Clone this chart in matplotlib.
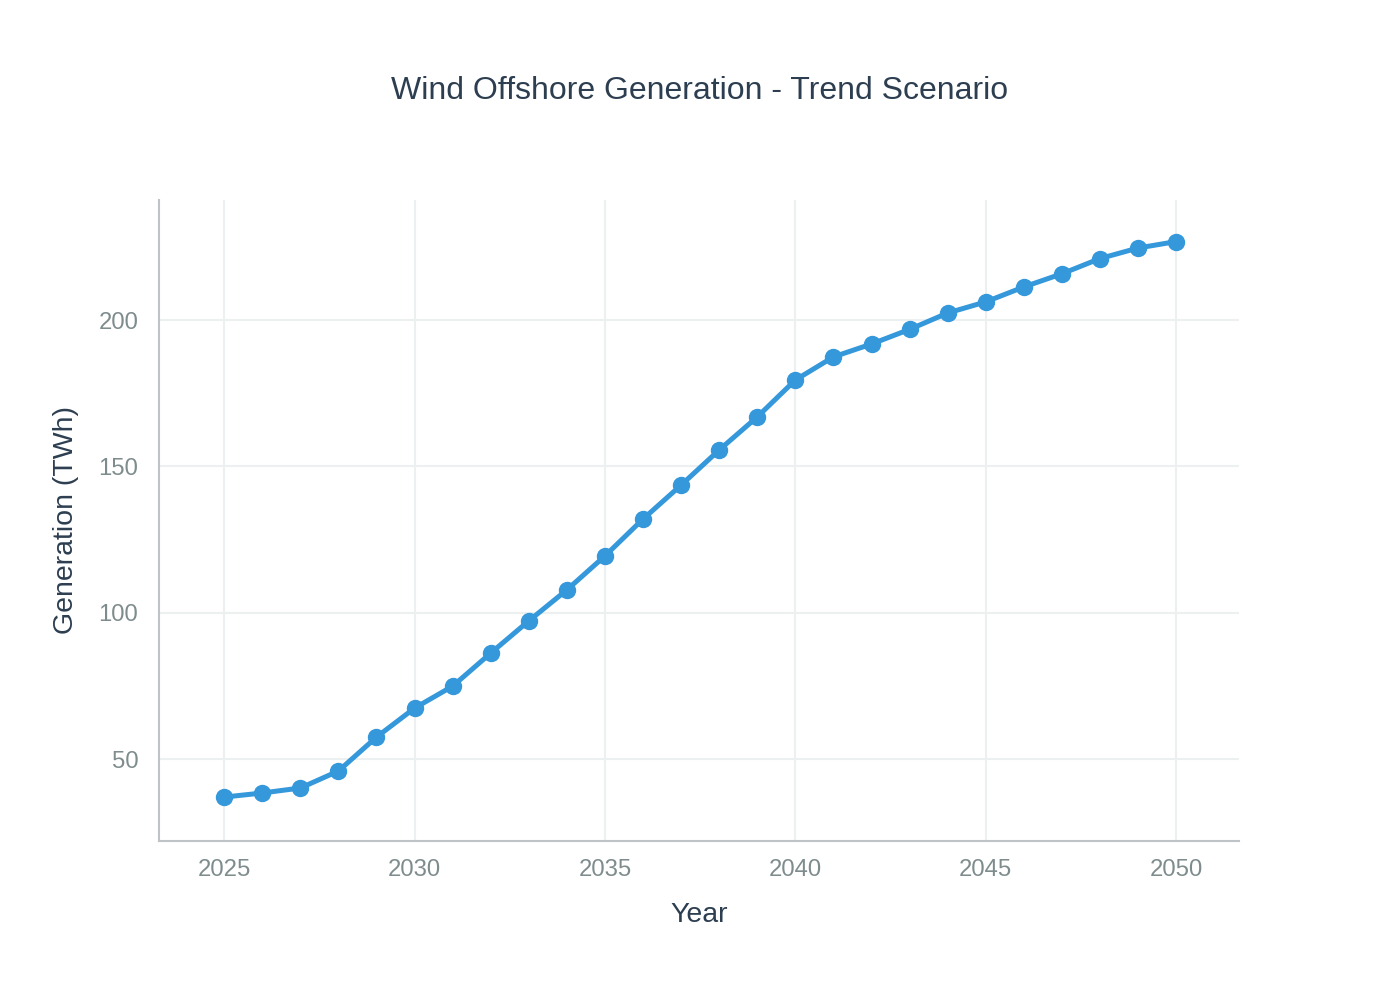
import matplotlib
matplotlib.use("Agg")
import matplotlib.pyplot as plt

years = list(range(2025, 2051))
generation = [37.0, 38.4, 40.1, 45.9, 57.5, 67.4, 74.9, 86.2, 97.2, 107.8,
              119.4, 132.0, 143.6, 155.6, 166.9, 179.5, 187.4, 191.8, 196.8, 202.4,
              206.2, 211.3, 215.8, 221.0, 224.6, 226.8]
xticks = [2025, 2030, 2035, 2040, 2045, 2050]
yticks = [50, 100, 150, 200]

plt.rcParams['font.family'] = ['Liberation Sans', 'DejaVu Sans']

fig = plt.figure(figsize=(14, 10), dpi=100)
ax = fig.add_axes([0.1136, 0.159, 0.7714, 0.641])

ax.plot(years, generation, color="#3498db", linewidth=3.6, marker="o",
        markersize=11.5, zorder=3)

ax.set_xlim(2023.29, 2051.65)
ax.set_ylim(22, 241)
ax.set_xticks(xticks)
ax.set_yticks(yticks)
ax.grid(True, color="#ecf0f1", linewidth=1.5, zorder=0)

for side in ["top", "right"]:
    ax.spines[side].set_visible(False)
for side in ["left", "bottom"]:
    ax.spines[side].set_color("#bdc3c7")
    ax.spines[side].set_linewidth(1.5)

ax.tick_params(length=0, labelsize=17.2, labelcolor="#7f8c8d")
ax.tick_params(axis="x", pad=13)
ax.tick_params(axis="y", pad=15)

ax.set_xlabel("Year", fontsize=20.5, color="#2c3e50", labelpad=15)
ax.set_ylabel("Generation (TWh)", fontsize=20.5, color="#2c3e50", labelpad=14)
fig.text(0.5, 0.909, "Wind Offshore Generation - Trend Scenario", ha="center",
         va="center", fontsize=23, color="#2c3e50")

fig.savefig("out.png", dpi=100)
